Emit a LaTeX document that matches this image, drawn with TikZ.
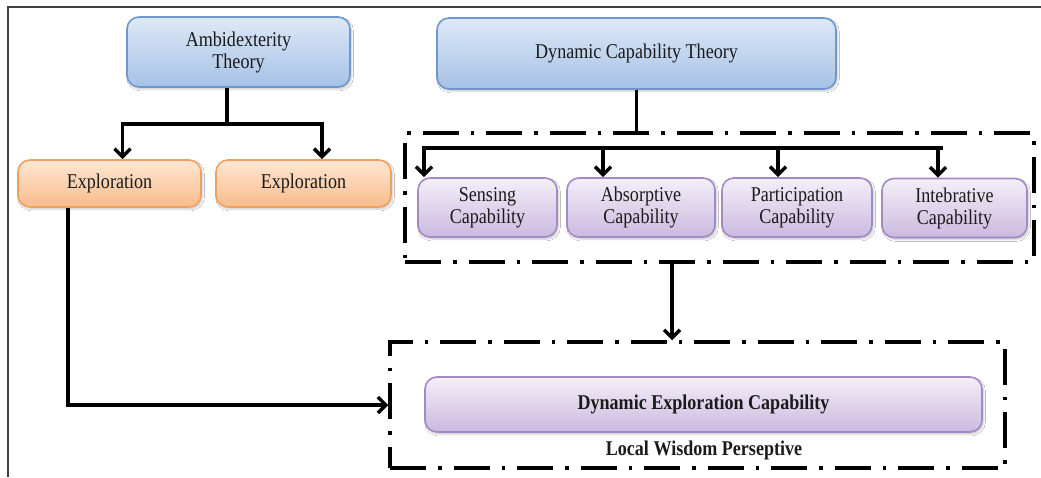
\documentclass[tikz,border=0pt]{standalone}
\usepackage{fontspec}
\setmainfont{Liberation Serif}[FakeStretch=0.86]
\usetikzlibrary{arrows.meta,shadows.blur,calc}

\definecolor{blueTop}{HTML}{DDE9F7}
\definecolor{blueBot}{HTML}{A6C1E6}
\definecolor{blueLine}{HTML}{6D97CD}
\definecolor{orTop}{HTML}{FDE7D3}
\definecolor{orBot}{HTML}{F8BC8B}
\definecolor{orLine}{HTML}{F0A160}
\definecolor{puTop}{HTML}{F4EFF8}
\definecolor{puBot}{HTML}{CBB9DF}
\definecolor{puLine}{HTML}{A28AC7}
\definecolor{ink}{HTML}{1A1A1A}

\tikzset{
  x=1pt, y=-1pt,
  txt/.style={font=\fontsize{21}{22}\selectfont, text=ink, align=center},
  boxbase/.style={txt, rounded corners=12pt, line width=1.6pt, inner sep=0pt,
    blur shadow={shadow xshift=1.5pt, shadow yshift=-2pt, shadow opacity=22, shadow blur steps=6}},
  bluebox/.style={boxbase, draw=blueLine, top color=blueTop, bottom color=blueBot},
  orbox/.style={boxbase, draw=orLine, top color=orTop, bottom color=orBot},
  pubox/.style={boxbase, draw=puLine, top color=puTop, bottom color=puBot},
  groupbox/.style={draw=black, line width=3.5pt, inner sep=0pt,
    dash pattern=on 36pt off 12pt on 3.5pt off 12pt},
  link/.style={draw=black, line width=3.5pt},
  arr/.style={link, -{Straight Barb[length=8pt,width=16pt]}},
  sz/.style 2 args={minimum width=#1pt, minimum height=#2pt},
}

\begin{document}
\begin{tikzpicture}
\useasboundingbox (0,0) rectangle (1041,477);
\fill[white] (0,0) rectangle (1041,477);

% page frame
\draw[line width=2pt, black!75] (8,477) -- (8,7) -- (1041,7);

% theories
\node[bluebox, sz={223}{70}] (amb) at (238.5,52) {Ambidexterity\\Theory};
\node[bluebox, sz={399}{71}] (dct) at (636.5,53.5) {Dynamic Capability Theory};

% exploration boxes
\node[orbox, sz={183}{47}] (exp1) at (109.5,183.5) {Exploration};
\node[orbox, sz={175}{47}] (exp2) at (303.5,183.5) {Exploration};

% dashed groups
\node[groupbox, sz={629}{129}] (grp1) at (719.5,197.5) {};
\node[groupbox, sz={615}{126}] (grp2) at (697.5,405) {};

% capabilities
\node[pubox, sz={139}{59}] (sen) at (487.5,207.5) {Sensing\\Capability};
\node[pubox, sz={148}{59}] (abs) at (641,207.5) {Absorptive\\Capability};
\node[pubox, sz={150}{59}] (par) at (797,207.5) {Participation\\Capability};
\node[pubox, sz={145}{59}] (int) at (954.5,208) {Intebrative\\Capability};

% outcome
\node[pubox, sz={557}{55}, font=\fontsize{21}{22}\selectfont\bfseries] (dec) at (703.5,404.5) {Dynamic Exploration Capability};
\node[txt, font=\fontsize{21}{22}\selectfont\bfseries] (lwp) at (704,450) {Local Wisdom Perseptive};

% ambidexterity branches
\coordinate (ajoin) at (227,124);
\draw[link] ([xshift=-11.5pt]amb.south) -- (ajoin);
\draw[arr] (ajoin) -| ([xshift=13pt]exp1.north);
\draw[arr] (ajoin) -| ([xshift=18.5pt]exp2.north);

% dynamic capability branches
\draw[link] (dct.south) -- (dct.south |- grp1.north);
\coordinate (b1) at (424,148);
\coordinate (b2) at (603,148);
\coordinate (b3) at (778,148);
\coordinate (b4) at (938,148);
\draw[link] ([xshift=-1.75pt]b1) -- ([xshift=5pt]b4);
\draw[arr] (b1) -- (b1 |- sen.north);
\draw[arr] (b2) -- (b2 |- abs.north);
\draw[arr] (b3) -- (b3 |- par.north);
\draw[arr] (b4) -- (b4 |- int.north);

% group to outcome
\coordinate (mid) at (672,300);
\draw[arr] (grp1.south -| mid) -- (grp2.north -| mid);

% exploration to outcome
\draw[arr] ([xshift=-41.5pt]exp1.south) |- (grp2.west);
\end{tikzpicture}
\end{document}
